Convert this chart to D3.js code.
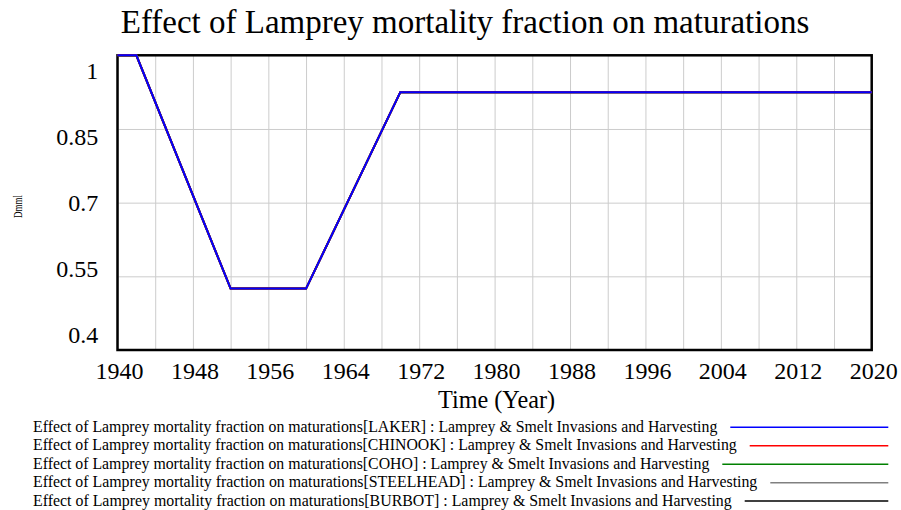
<!DOCTYPE html>
<html>
<head>
<meta charset="utf-8">
<script src="https://cdn.jsdelivr.net/npm/d3@7"></script>
<style>
  body { margin: 0; background: #fff; }
  text { font-family: "Times New Roman", "Liberation Serif", serif; fill: #000; }
</style>
</head>
<body>
<div id="chart"></div>
<script>
// ----------------------------
// Data
// ----------------------------
var years = [1940, 1942, 1952, 1960, 1970, 2020];
var laker = [1, 1, 0.525, 0.525, 0.925, 0.925];
var chinook = [1, 1, 0.525, 0.525, 0.925, 0.925];
var coho = [1, 1, 0.525, 0.525, 0.925, 0.925];
var steelhead = [1, 1, 0.525, 0.525, 0.925, 0.925];
var burbot = [1, 1, 0.525, 0.525, 0.925, 0.925];

var seriesNames = ["LAKER", "CHINOOK", "COHO", "STEELHEAD", "BURBOT"];
var seriesValues = [laker, chinook, coho, steelhead, burbot];
var seriesColors = ["#0000ff", "#ff0000", "#008000", "#808080", "#000000"];

var xTickLabels = [1940, 1948, 1956, 1964, 1972, 1980, 1988, 1996, 2004, 2012, 2020];
var xGridValues = d3.range(1940, 2021, 4);
var yTickLabels = [1, 0.85, 0.7, 0.55, 0.4];
var yGridValues = [0.55, 0.7, 0.85];

var title = "Effect of Lamprey mortality fraction on maturations";
var legendSuffix = " : Lamprey & Smelt Invasions and Harvesting";

// ----------------------------
// Layout
// ----------------------------
var Vis = {};
Vis.width = 901;
Vis.height = 510;
Vis.left = 117.5;
Vis.right = 871.7;
Vis.top = 55.3;
Vis.bottom = 350;

Vis.svg = d3.select("#chart").append("svg")
  .attr("width", Vis.width)
  .attr("height", Vis.height);

// ----------------------------
// Scales
// ----------------------------
Vis.x = d3.scaleLinear().domain([1940, 2020]).range([Vis.left, Vis.right]);
Vis.y = d3.scaleLinear().domain([0.4, 1]).range([Vis.bottom, Vis.top]);
// tick labels are spread evenly inside the frame, not on the gridlines
Vis.yLabel = d3.scaleLinear().domain([1, 0.4]).range([71.2, 335]);

// ----------------------------
// Gridlines
// ----------------------------
var xGrid = Vis.svg.append("g")
  .attr("transform", `translate(0,${Vis.bottom})`)
  .call(d3.axisBottom(Vis.x).tickValues(xGridValues)
    .tickSize(-(Vis.bottom - Vis.top)).tickFormat(""));
xGrid.select(".domain").remove();
xGrid.selectAll("line").attr("stroke", "#cccccc").attr("stroke-width", 1);

var yGrid = Vis.svg.append("g")
  .attr("transform", `translate(${Vis.left},0)`)
  .call(d3.axisLeft(Vis.y).tickValues(yGridValues)
    .tickSize(-(Vis.right - Vis.left)).tickFormat(""));
yGrid.select(".domain").remove();
yGrid.selectAll("line").attr("stroke", "#cccccc").attr("stroke-width", 1);

// ----------------------------
// Frame
// ----------------------------
Vis.svg.append("rect")
  .attr("x", Vis.left)
  .attr("y", Vis.top)
  .attr("width", Vis.right - Vis.left)
  .attr("height", Vis.bottom - Vis.top)
  .attr("fill", "none")
  .attr("stroke", "#000")
  .attr("stroke-width", 2.5);

// ----------------------------
// Tick labels
// ----------------------------
var xAxis = Vis.svg.append("g")
  .attr("transform", `translate(1.5,${Vis.bottom})`)
  .call(d3.axisBottom(Vis.x).tickValues(xTickLabels).tickSize(0).tickPadding(0)
    .tickFormat(d3.format("d")));
xAxis.select(".domain").remove();
xAxis.selectAll("text")
  .attr("y", 29.3)
  .attr("dy", null)
  .style("font-family", '"Times New Roman", "Liberation Serif", serif')
  .style("font-size", "24px");

var yAxis = Vis.svg.append("g")
  .attr("transform", "translate(98.3,0)")
  .call(d3.axisLeft(Vis.yLabel).tickValues(yTickLabels).tickSize(0).tickPadding(0)
    .tickFormat(d => String(d)));
yAxis.select(".domain").remove();
yAxis.selectAll("text")
  .style("font-family", '"Times New Roman", "Liberation Serif", serif')
  .style("font-size", "24px");

// ----------------------------
// Titles
// ----------------------------
Vis.svg.append("text")
  .attr("x", 465)
  .attr("y", 33.3)
  .attr("text-anchor", "middle")
  .style("font-size", "33px")
  .text(title);

Vis.svg.append("text")
  .attr("x", 496.5)
  .attr("y", 408)
  .attr("text-anchor", "middle")
  .attr("textLength", 117)
  .attr("lengthAdjust", "spacingAndGlyphs")
  .style("font-size", "26px")
  .text("Time (Year)");

Vis.svg.append("text")
  .attr("transform", "translate(22,206.5) rotate(-90)")
  .attr("text-anchor", "middle")
  .attr("textLength", 23)
  .attr("lengthAdjust", "spacingAndGlyphs")
  .style("font-size", "12px")
  .text("Dmml");

// ----------------------------
// Series lines (LAKER drawn last so it sits on top)
// ----------------------------
var line = d3.line()
  .x((d, i) => Vis.x(years[i]))
  .y(d => Vis.y(d));

var order = d3.range(seriesNames.length).reverse();
Vis.svg.append("g").selectAll("path")
  .data(order)
  .enter()
  .append("path")
  .attr("d", i => line(seriesValues[i]))
  .attr("fill", "none")
  .attr("stroke", i => seriesColors[i])
  .attr("stroke-width", 2);

// ----------------------------
// Legend
// ----------------------------
var legendLineY = [427.3, 445.7, 464.3, 482.7, 501];
var legendTextEnd = [717.3, 736.7, 709.3, 757.3, 731.7];

var legend = Vis.svg.append("g").selectAll("g")
  .data(seriesNames)
  .enter()
  .append("g");

legend.append("text")
  .attr("x", 33)
  .attr("y", (d, i) => legendLineY[i] + 4.5)
  .attr("textLength", (d, i) => legendTextEnd[i] - 33)
  .attr("lengthAdjust", "spacingAndGlyphs")
  .style("font-size", "16px")
  .text(d => `${title}[${d}]${legendSuffix}`);

legend.append("line")
  .attr("x1", (d, i) => legendTextEnd[i] + 13)
  .attr("x2", 888.3)
  .attr("y1", (d, i) => legendLineY[i])
  .attr("y2", (d, i) => legendLineY[i])
  .attr("stroke", (d, i) => seriesColors[i])
  .attr("stroke-width", 1.5);
</script>
</body>
</html>
